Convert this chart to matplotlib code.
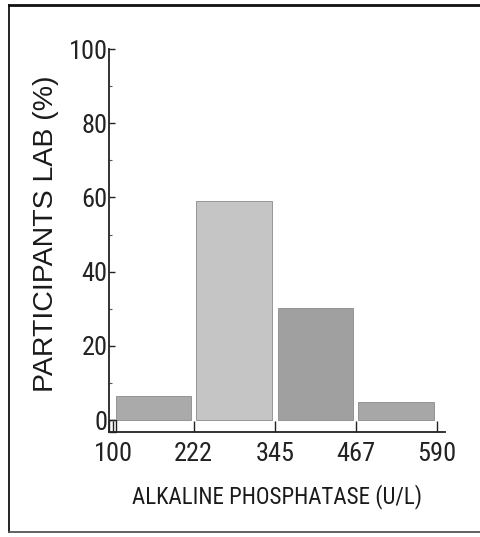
import matplotlib
matplotlib.use("Agg")
import matplotlib.pyplot as plt
from matplotlib.patches import Rectangle
from matplotlib.lines import Line2D
import numpy as np

# ---- data ----
bin_edges = [100, 222, 345, 467, 590]
percent_labs = [6.5, 59, 30.2, 4.8]
xtick_labels = ["100", "222", "345", "467", "590"]
ytick_values = [0, 20, 40, 60, 80, 100]
bar_colors = ["#aaaaaa", "#c5c5c5", "#a0a0a0", "#a7a7a7"]
x_label = "ALKALINE PHOSPHATASE (U/L)"
y_label = "PARTICIPANTS LAB (%)"

narrow = ["Roboto Condensed", "Archivo Narrow", "DejaVu Sans"]

fig = plt.figure(figsize=(4.8, 5.37), dpi=100)
ax = fig.add_axes([109/480, 1-432/537, 336/480, 383/537])

edges = np.array(bin_edges, dtype=float)
widths = np.diff(edges)
ax.bar(edges[:-1] + 4, percent_labs, width=widths - 8, align="edge",
       color=bar_colors, edgecolor="#8a8a8a", linewidth=0.6, zorder=2)

ax.set_xlim(94, 602)
ax.set_ylim(-3.2, 100)

for s in ("top", "right"):
    ax.spines[s].set_visible(False)
for s in ("left", "bottom"):
    ax.spines[s].set_color("#222222")
    ax.spines[s].set_linewidth(1.3)
ax.spines["left"].set_bounds(-3.2, 100)

ax.set_xticks(bin_edges)
ax.set_xticklabels(xtick_labels, fontfamily=narrow, fontsize=19, color="#1a1a1a")
ax.set_yticks(ytick_values)
ax.set_yticklabels([str(v) for v in ytick_values], fontfamily=narrow, fontsize=19, color="#1a1a1a")
ax.set_yticks([10, 30, 50, 70, 90], minor=True)
ax.tick_params(axis="x", direction="in", length=8, width=1, pad=7, colors="#222222")
ax.tick_params(axis="y", direction="in", length=4, width=1, pad=1, colors="#222222")
ax.tick_params(axis="y", which="minor", direction="in", length=2.5, width=0.8, colors="#555555")

# small corner box at origin
ax.add_patch(Rectangle((94, -3.2), 10.5, 3.2, fill=False, edgecolor="#222222",
                       linewidth=1.0, clip_on=False, zorder=3))

fig.text(46/480, 1-234/537, y_label, rotation=90, ha="center", va="center",
         fontfamily="Liberation Sans", fontsize=20.5, color="#1a1a1a")
fig.text(277/480, 1-497/537, x_label, ha="center", va="center",
         fontfamily=narrow, fontsize=16.5, color="#1a1a1a")

# outer frame
fig.add_artist(Line2D([9/480, 1], [1-5/537, 1-5/537], transform=fig.transFigure,
                      color="#111111", linewidth=2))
fig.add_artist(Line2D([9/480, 9/480], [1-5/537, 1-532/537], transform=fig.transFigure,
                      color="#111111", linewidth=1.3))
fig.add_artist(Line2D([9/480, 1], [1-532/537, 1-532/537], transform=fig.transFigure,
                      color="#555555", linewidth=1.3))

fig.savefig("out.png", dpi=100)
